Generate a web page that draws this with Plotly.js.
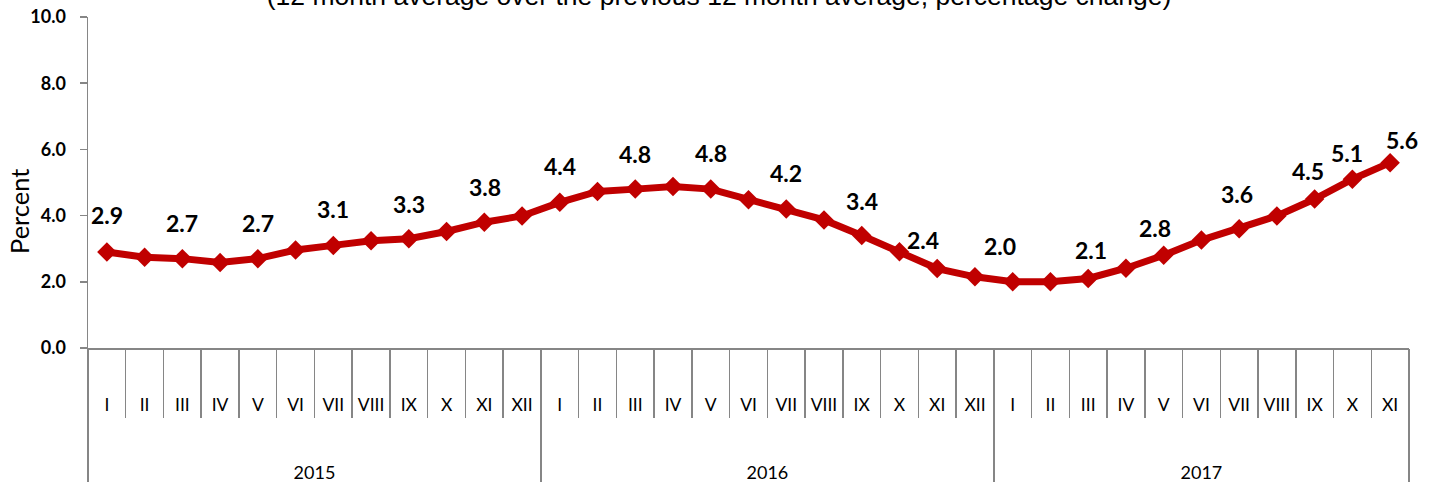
<!DOCTYPE html>
<html><head><meta charset="utf-8">
<script src="https://cdn.plot.ly/plotly-3.0.1.min.js"></script>
<style>html,body{margin:0;padding:0;background:#fff}#chart{width:1438px;height:482px}</style>
</head><body><div id="chart"></div>
<script>
// ---- data ----
const titleText = '(12 month average over the previous 12 month average, percentage change)';
const yAxisTitle = 'Percent';
const yearLabels = ['2015', '2016', '2017'];
const monthLabels = ['I','II','III','IV','V','VI','VII','VIII','IX','X','XI','XII'];
const monthsPerYear = [12, 12, 11];
const values2015 = [2.9, 2.74, 2.7, 2.58, 2.7, 2.96, 3.1, 3.24, 3.3, 3.52, 3.8, 3.99];
const values2016 = [4.4, 4.73, 4.8, 4.88, 4.8, 4.48, 4.2, 3.87, 3.4, 2.91, 2.4, 2.15];
const values2017 = [2.0, 2.0, 2.1, 2.41, 2.8, 3.26, 3.6, 3.99, 4.5, 5.1, 5.6];
const labelledPoints = [0,2,4,6,8,10,12,14,16,18,20,22,24,26,28,30,32,33,34];

// ---- label placement (style, px) ----
const labelDx = [0,0,0,0,0,1,0,0,0,0,0,-14,-13,3,-9,-2,-7,-5,12];
const labelDy = [37,36,36,36,35,35,36,35,36,36,34,29,36,28,27,35,28,26,23];

const values = values2015.concat(values2016, values2017);
const idx = values.map((v, i) => i);
const monthText = [];
monthsPerYear.forEach(n => { for (let m = 0; m < n; m++) monthText.push(monthLabels[m]); });
const monthBounds = [-0.5].concat(idx.map(i => i + 0.5));
const yearBounds = [-0.5];
monthsPerYear.forEach(n => yearBounds.push(yearBounds[yearBounds.length - 1] + n));
const yearCenters = yearLabels.map((y, k) => (yearBounds[k] + yearBounds[k + 1]) / 2);

const GRAY = '#868686';
const RED = '#C00000';
const xr = [-0.5, values.length - 0.5];

const trace = {
  type: 'scatter', mode: 'lines+markers',
  x: idx, y: values,
  line: {color: RED, width: 7},
  marker: {symbol: 'diamond', size: 15, color: RED},
  cliponaxis: false, hoverinfo: 'y'
};
// empty trace so the year axis (x2) is created
const yearAxisHolder = {type: 'scatter', mode: 'none', x: [], y: [], xaxis: 'x2', yaxis: 'y', hoverinfo: 'skip'};

const annotations = labelledPoints.map((i, j) => ({
  x: i, y: values[i], xref: 'x', yref: 'y',
  text: values[i].toFixed(1), showarrow: false,
  xanchor: 'center', yanchor: 'middle',
  xshift: labelDx[j], yshift: labelDy[j],
  font: {family: 'Lato', size: 23, color: '#000', weight: 'bold'}
}));
annotations.push({
  xref: 'paper', yref: 'paper', x: -0.0522, y: 0.411,
  xanchor: 'center', yanchor: 'middle', textangle: -90,
  text: yAxisTitle, showarrow: false,
  font: {family: 'Lato', size: 25.5, color: '#000'}
});

const layout = {
  width: 1438, height: 482,
  margin: {l: 88, r: 29, t: 17, b: 134},
  paper_bgcolor: '#fff', plot_bgcolor: '#fff',
  showlegend: false,
  title: {
    text: titleText, x: 0.5, xref: 'container', xanchor: 'center',
    y: 1 - 5 / 482, yref: 'container', yanchor: 'bottom',
    font: {family: 'Liberation Sans, Arial, sans-serif', size: 26.5, color: '#000'}
  },
  xaxis: {
    type: 'linear', range: xr, fixedrange: true,
    showgrid: false, zeroline: false,
    showline: true, linecolor: GRAY, linewidth: 1.5,
    tickmode: 'array', tickvals: idx, ticktext: monthText,
    ticks: '', ticklabelstandoff: 40,
    tickfont: {family: 'Lato', size: 17.5, color: '#000'},
    minor: {tickmode: 'array', tickvals: monthBounds, ticks: 'outside', ticklen: 68,
            tickcolor: GRAY, tickwidth: 1.5, showgrid: false}
  },
  xaxis2: {
    type: 'linear', range: xr, overlaying: 'x', anchor: 'y', side: 'bottom',
    fixedrange: true, showgrid: false, zeroline: false, showline: false,
    tickmode: 'array', tickvals: yearCenters, ticktext: yearLabels,
    ticks: '', ticklabelstandoff: 112,
    tickfont: {family: 'Lato', size: 18, color: '#000'},
    minor: {tickmode: 'array', tickvals: yearBounds, ticks: 'outside', ticklen: 140,
            tickcolor: GRAY, tickwidth: 1.5, showgrid: false}
  },
  yaxis: {
    range: [0, 10], dtick: 2, tick0: 0, tickformat: '.1f', fixedrange: true,
    showgrid: false, zeroline: false,
    showline: true, linecolor: GRAY, linewidth: 1.5,
    ticks: 'outside', ticklen: 7, tickcolor: GRAY, tickwidth: 1.5,
    ticklabelstandoff: 10,
    tickfont: {family: 'Lato', size: 18, color: '#000', weight: 'bold'}
  },
  annotations: annotations
};

Plotly.newPlot('chart', [trace, yearAxisHolder], layout, {displayModeBar: false, staticPlot: true});
</script>
</body></html>
